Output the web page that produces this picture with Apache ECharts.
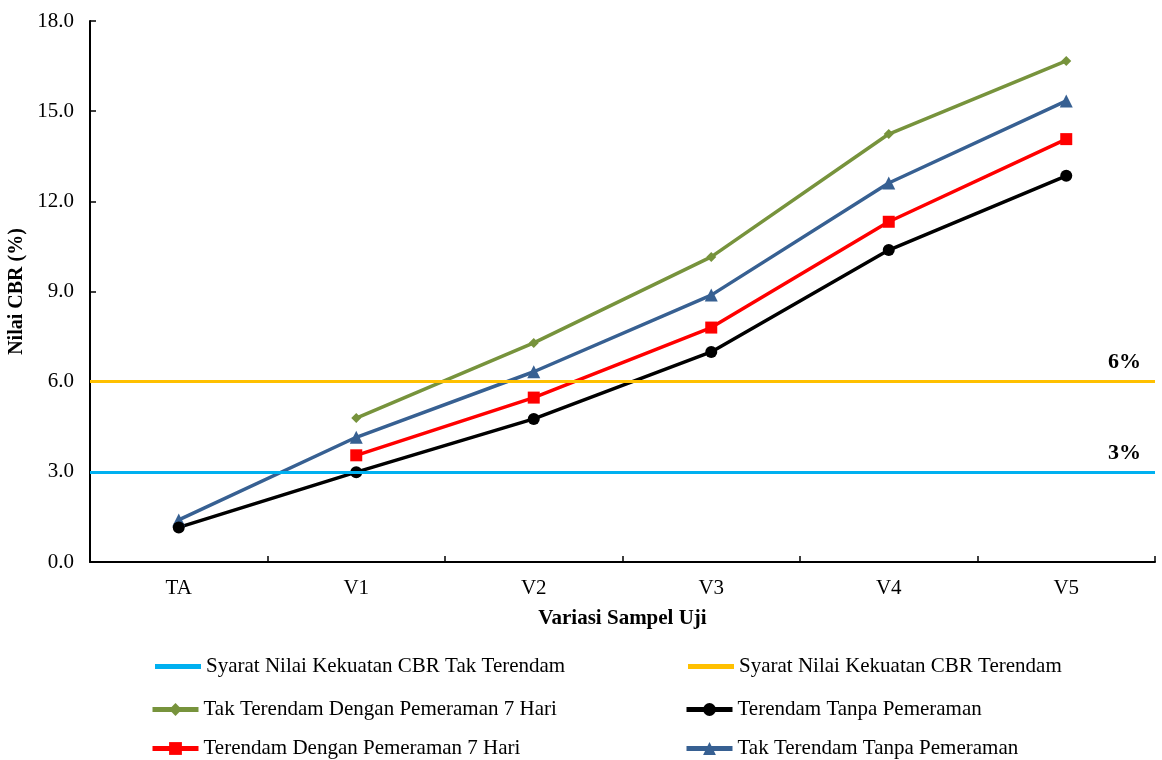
<!DOCTYPE html>
<html>
<head>
<meta charset="utf-8">
<script src="https://cdn.jsdelivr.net/npm/echarts@6/dist/echarts.min.js"></script>
<style>
  html, body { margin: 0; padding: 0; background: #fff; }
  #chart { width: 1162px; height: 760px; }
</style>
</head>
<body>
<div id="chart"></div>
<script>
// Sample variations on the x axis
const categories = ['TA', 'V1', 'V2', 'V3', 'V4', 'V5'];

// CBR values (%) per test condition
const takTerendamDenganPemeraman = [null, 4.79, 7.29, 10.15, 14.24, 16.67];
const takTerendamTanpaPemeraman = [1.40, 4.15, 6.33, 8.88, 12.61, 15.34];
const terendamDenganPemeraman = [null, 3.55, 5.47, 7.80, 11.32, 14.07];
const terendamTanpaPemeraman = [1.15, 2.99, 4.76, 6.99, 10.38, 12.85];

// Minimum CBR requirements (%)
const syaratTakTerendam = 3;
const syaratTerendam = 6;

// Y axis ticks
const yMin = 0, yMax = 18, yStep = 3;

const serif = '"Liberation Serif", "Times New Roman", serif';

const names = {
  syaratTak: 'Syarat Nilai Kekuatan CBR Tak Terendam',
  syaratTer: 'Syarat Nilai Kekuatan CBR Terendam',
  green: 'Tak Terendam Dengan Pemeraman 7 Hari',
  black: 'Terendam Tanpa Pemeraman',
  red: 'Terendam Dengan Pemeraman 7 Hari',
  blue: 'Tak Terendam Tanpa Pemeraman'
};

// One legend block per entry so the two columns line up
function legendAt(name, left, top, plain) {
  const lg = {
    data: [name],
    left: left,
    top: top,
    padding: 0,
    itemWidth: 46,
    itemHeight: 16,
    itemGap: 0,
    lineStyle: { width: 5 },
    textStyle: { fontFamily: serif, fontSize: 21, color: '#000' }
  };
  if (plain) {
    lg.icon = 'rect';
    lg.itemHeight = 5;
  }
  return lg;
}

function thresholdSeries(name, value, color, text) {
  return {
    name: name,
    type: 'line',
    data: [],
    symbol: 'none',
    color: color,
    lineStyle: { color: color, width: 3 },
    markLine: {
      silent: true,
      symbol: 'none',
      lineStyle: { color: color, width: 3, type: 'solid' },
      label: {
        show: true,
        position: 'insideEndTop',
        formatter: text,
        distance: [14, 8],
        fontFamily: serif,
        fontSize: 22,
        fontWeight: 'bold',
        color: '#000'
      },
      emphasis: { disabled: true },
      data: [{ yAxis: value }]
    }
  };
}

function dataSeries(name, data, color, symbol, size) {
  return {
    name: name,
    type: 'line',
    data: data,
    color: color,
    symbol: symbol,
    symbolSize: size,
    connectNulls: false,
    lineStyle: { color: color, width: 3.5 },
    itemStyle: { color: color }
  };
}

const chart = echarts.init(document.getElementById('chart'), null, { renderer: 'canvas' });

chart.setOption({
  animation: false,
  backgroundColor: '#fff',
  grid: { left: 90, right: 7, top: 21, bottom: 198, outerBoundsMode: 'none', containLabel: false },
  xAxis: {
    type: 'category',
    data: categories,
    boundaryGap: true,
    name: 'Variasi Sampel Uji',
    nameLocation: 'middle',
    nameGap: 46,
    nameTextStyle: { fontFamily: serif, fontSize: 21, fontWeight: 'bold', color: '#000' },
    axisLine: { lineStyle: { color: '#000', width: 2 } },
    axisTick: { show: true, inside: true, length: 6, lineStyle: { color: '#000', width: 1.5 } },
    axisLabel: { fontFamily: serif, fontSize: 21, color: '#000', margin: 16 },
    splitLine: { show: false }
  },
  yAxis: {
    type: 'value',
    min: yMin,
    max: yMax,
    interval: yStep,
    name: 'Nilai CBR (%)',
    nameLocation: 'middle',
    nameGap: 60,
    nameTextStyle: { fontFamily: serif, fontSize: 20, fontWeight: 'bold', color: '#000' },
    axisLine: { show: true, lineStyle: { color: '#000', width: 2 } },
    axisTick: { show: true, inside: true, length: 6, lineStyle: { color: '#000', width: 1.5 } },
    axisLabel: {
      fontFamily: serif, fontSize: 21, color: '#000', margin: 16,
      formatter: v => v.toFixed(1)
    },
    splitLine: { show: false }
  },
  legend: [
    legendAt(names.syaratTak, 155, 656, true),
    legendAt(names.syaratTer, 688, 656, true),
    legendAt(names.green, 150, 699),
    legendAt(names.black, 684, 699),
    legendAt(names.red, 150, 738),
    legendAt(names.blue, 684, 738)
  ],
  series: [
    thresholdSeries(names.syaratTak, syaratTakTerendam, '#00B0F0', '3%'),
    thresholdSeries(names.syaratTer, syaratTerendam, '#FFC000', '6%'),
    dataSeries(names.green, takTerendamDenganPemeraman, '#77933C', 'diamond', 10),
    dataSeries(names.blue, takTerendamTanpaPemeraman, '#376092', 'triangle', 13),
    dataSeries(names.red, terendamDenganPemeraman, '#FF0000', 'rect', 12),
    dataSeries(names.black, terendamTanpaPemeraman, '#000000', 'circle', 12)
  ]
});
</script>
</body>
</html>
